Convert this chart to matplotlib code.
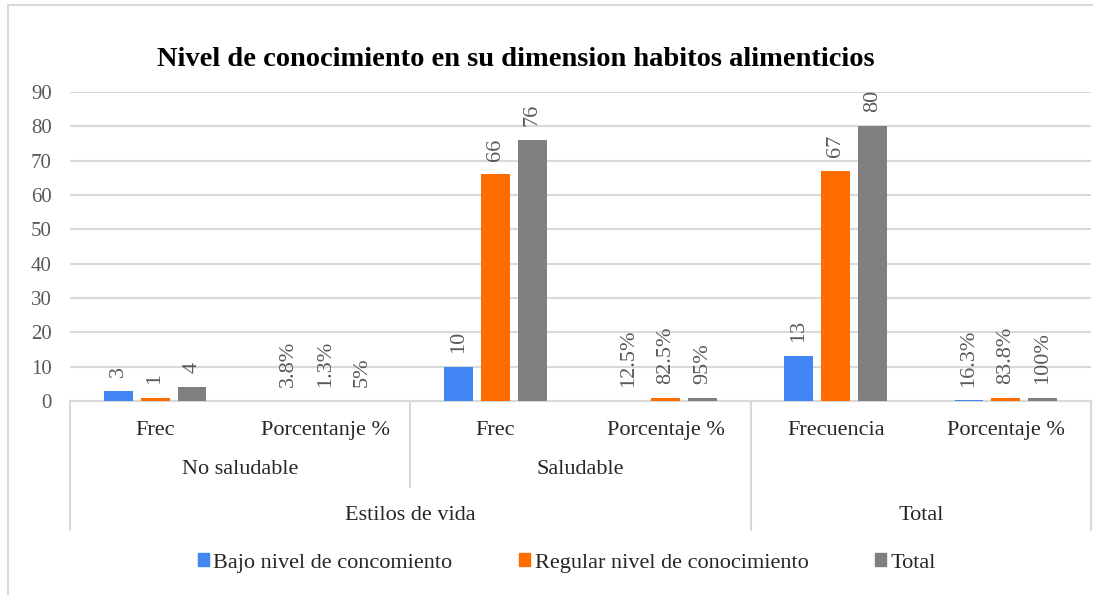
import matplotlib
matplotlib.use('Agg')
import matplotlib.pyplot as plt
from matplotlib import rcParams
from matplotlib.lines import Line2D
from matplotlib.patches import Patch
import numpy as np

rcParams['font.family'] = ['Liberation Serif', 'DejaVu Serif']
rcParams['font.size'] = 16

# data
sub_labels = ["Frec", "Porcentanje %", "Frec", "Porcentaje %", "Frecuencia", "Porcentaje %"]
mid_labels = ["No saludable", "Saludable"]
top_labels = ["Estilos de vida", "Total"]
series_names = ["Bajo nivel de concomiento", "Regular nivel de conocimiento", "Total"]
bajo = [3, 0.038, 10, 0.125, 13, 0.163]
regular = [1, 0.013, 66, 0.825, 67, 0.838]
total = [4, 0.05, 76, 0.95, 80, 1.0]
bajo_txt = ["3", "3.8%", "10", "12.5%", "13", "16.3%"]
regular_txt = ["1", "1.3%", "66", "82.5%", "67", "83.8%"]
total_txt = ["4", "5%", "76", "95%", "80", "100%"]
colors = ["#4285F4", "#FF6D01", "#808080"]

fig = plt.figure(figsize=(11.13, 5.95), dpi=100)
ax = fig.add_axes([70/1113, 1 - 401/595, (1091 - 70)/1113, (401 - 92)/595])

x = np.arange(len(sub_labels))
w = 0.17
step = 0.217
for k, (vals, txts) in enumerate(zip([bajo, regular, total], [bajo_txt, regular_txt, total_txt])):
    xs = x + (k - 1) * step
    ax.bar(xs, vals, width=w, color=colors[k], zorder=3)
    for xi, v, t in zip(xs, vals, txts):
        ax.annotate(t, (xi, v), xytext=(0, 10), textcoords='offset points',
                    rotation=90, ha='center', va='bottom', color='#595959', fontsize=16)

ax.set_xlim(-0.5, 5.5)
ax.set_ylim(0, 90)
ax.set_yticks(range(0, 91, 10))
ax.yaxis.grid(True, color='#D9D9D9', linewidth=1.5, zorder=0)
ax.set_axisbelow(True)
for s in ax.spines.values():
    s.set_visible(False)
ax.tick_params(axis='y', length=0, pad=13, colors='#595959', labelsize=15)
ax.set_xticks([])

# multi-level category axis
tr = ax.get_xaxis_transform()
lc = '#D9D9D9'
ax.plot([-0.5, 5.5], [0, 0], color=lc, lw=1.5, transform=tr, clip_on=False)
for xb, yb in [(-0.5, -0.417), (1.5, -0.278), (3.5, -0.417), (5.5, -0.417)]:
    ax.plot([xb, xb], [0, yb], color=lc, lw=1.5, transform=tr, clip_on=False)
for xi, lab in zip(x, sub_labels):
    ax.text(xi, -0.094, lab, transform=tr, ha='center', va='center', color='#262626', fontsize=16)
for xi, lab in zip([0.5, 2.5], mid_labels):
    ax.text(xi, -0.223, lab, transform=tr, ha='center', va='center', color='#262626', fontsize=16)
for xi, lab in zip([1.5, 4.5], top_labels):
    ax.text(xi, -0.372, lab, transform=tr, ha='center', va='center', color='#262626', fontsize=16)

fig.text(516/1113, 1 - 60/595, "Nivel de conocimiento en su dimension habitos alimenticios",
         ha='center', va='center', fontsize=20.5, fontweight='bold', color='black')

handles = [Patch(color=c) for c in colors]
fig.legend(handles, series_names, loc='center', bbox_to_anchor=(567/1113, 1 - 563/595),
           ncol=3, frameon=False, handlelength=0.5, handleheight=0.5, handletextpad=0.2,
           columnspacing=3.0, fontsize=16, labelcolor='#262626')

# chart frame
fig.add_artist(Line2D([8/1113, 1092/1113], [1 - 5/595] * 2, color=lc, lw=1.5))
fig.add_artist(Line2D([8/1113] * 2, [1 - 5/595, 0], color=lc, lw=1.5))

fig.savefig('out.png', dpi=100, facecolor='white')
